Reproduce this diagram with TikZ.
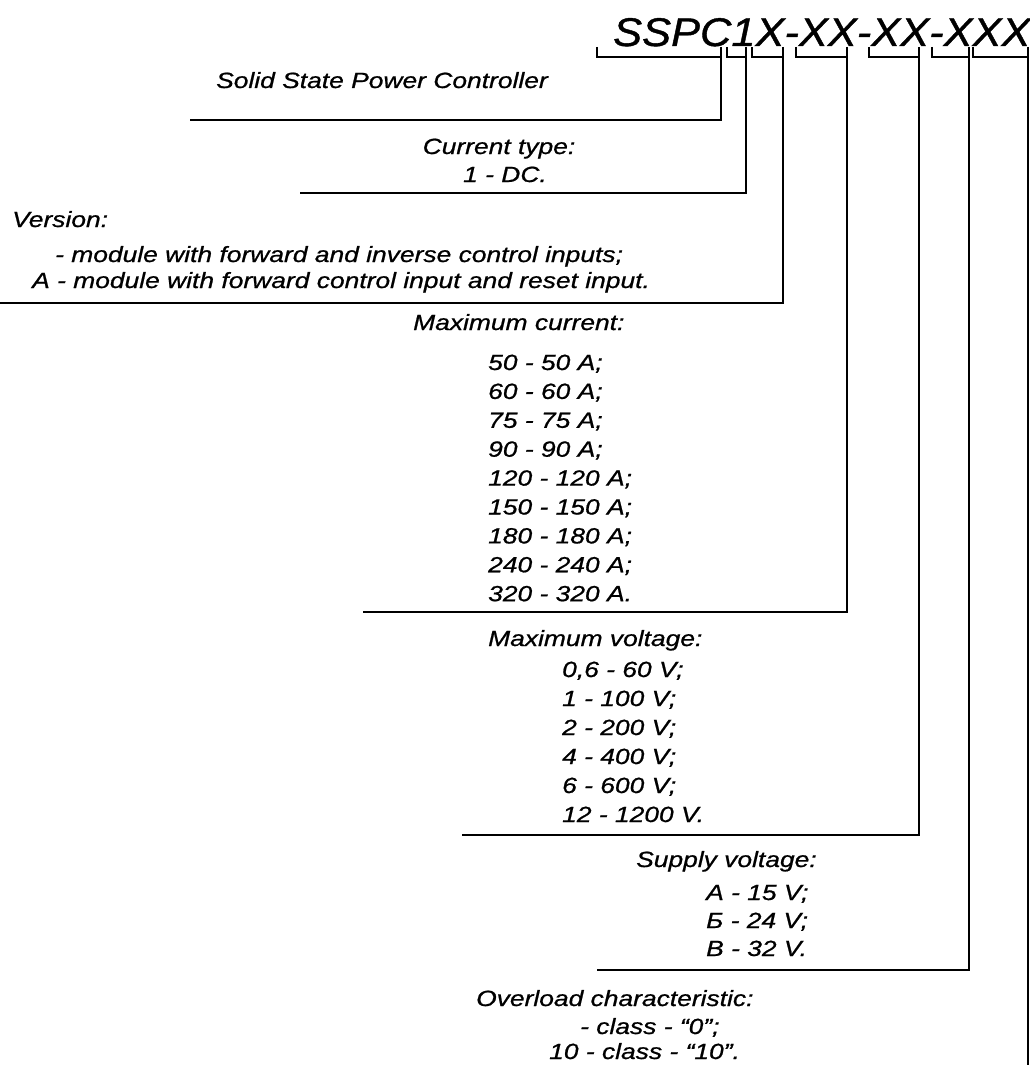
\documentclass[tikz,border=0pt]{standalone}
\usepackage{fontspec}
\setmainfont{Liberation Sans}
\newfontfamily\bodyfont{Liberation Sans}[FakeStretch=1.2, FakeBold=0.8]
\newfontfamily\titlefont{Liberation Sans}[FakeStretch=1.085, FakeBold=1]
\begin{document}
\begin{tikzpicture}[x=1pt,y=-1pt,
  ln/.style={line width=2pt},
  txt/.style={font=\bodyfont\fontsize{22}{26}\selectfont\itshape, inner sep=0pt, anchor=base west},
  ctxt/.style={font=\bodyfont\fontsize{22}{26}\selectfont\itshape, inner sep=0pt, anchor=base},
  ttl/.style={font=\titlefont\fontsize{40}{40}\selectfont\itshape, inner sep=0pt, anchor=base west}]
\useasboundingbox[fill=white] (0,0) rectangle (1030,1065);
% title
\node[ttl] (title) at (613,46) {SSPC1X-XX-XX-XXX};
% bracket coordinates
\foreach \n/\xl/\xr in {1/597/721, 2/727/746, 3/752/783, 4/796/847, 5/869/919, 6/932/969, 7/973/1028}{
  \coordinate (l\n) at (\xl,47);
  \coordinate (r\n) at (\xr,47);
}
% texts
\node[ctxt] (sspc) at (382,88) {Solid State Power Controller};
\node[ctxt] (ct1) at (499,154) {Current type:};
\node[ctxt] (ct2) at (505,182) {1 - DC.};
\node[txt] (ver) at (12,227) {Version:};
\node[txt] (ver1) at (55,262) {- module with forward and inverse control inputs;};
\node[txt] (ver2) at (32,288) {A - module with forward control input and reset input.};
\node[txt] (mc) at (413,330) {Maximum current:};
\foreach \t [count=\i] in {50 - 50 A;, 60 - 60 A;, 75 - 75 A;, 90 - 90 A;, 120 - 120 A;, 150 - 150 A;, 180 - 180 A;, 240 - 240 A;, 320 - 320 A.}
  \node[txt] (mc\i) at (488,{370+28.9*(\i-1)}) {\t};
\node[txt] (mv) at (488,646) {Maximum voltage:};
\foreach \t [count=\i] in {{0,6 - 60 V;}, 1 - 100 V;, 2 - 200 V;, 4 - 400 V;, 6 - 600 V;, 12 - 1200 V.}
  \node[txt] (mv\i) at (562,{677+29*(\i-1)}) {\t};
\node[txt] (sv) at (636,867) {Supply voltage:};
\foreach \t [count=\i] in {А - 15 V;, Б - 24 V;, В - 32 V.}
  \node[txt] (sv\i) at (706,{900+28*(\i-1)}) {\t};
\node[txt] (oc) at (476,1006) {Overload characteristic:};
\node[txt] (oc1) at (580,1034) {- class - “0”;};
\node[txt] (oc2) at (549,1059) {10 - class - “10”.};
% end points of leaders
\coordinate (e1) at (190,120);
\coordinate (e2) at (300,193);
\coordinate (e3) at (0,303);
\coordinate (e4) at (363,612);
\coordinate (e5) at (462,835);
\coordinate (e6) at (597,970);
\coordinate (e7) at (1028,1065);
% brackets and leaders
\foreach \n in {1,...,6}{
  \draw[ln] (l\n) -- ++(0,10) -| (r\n);
  \draw[ln] (r\n) |- (e\n);
}
\draw[ln] (l7) -- ++(0,10) -| (r7);
\draw[ln] (r7) -- (e7);
\end{tikzpicture}
\end{document}
